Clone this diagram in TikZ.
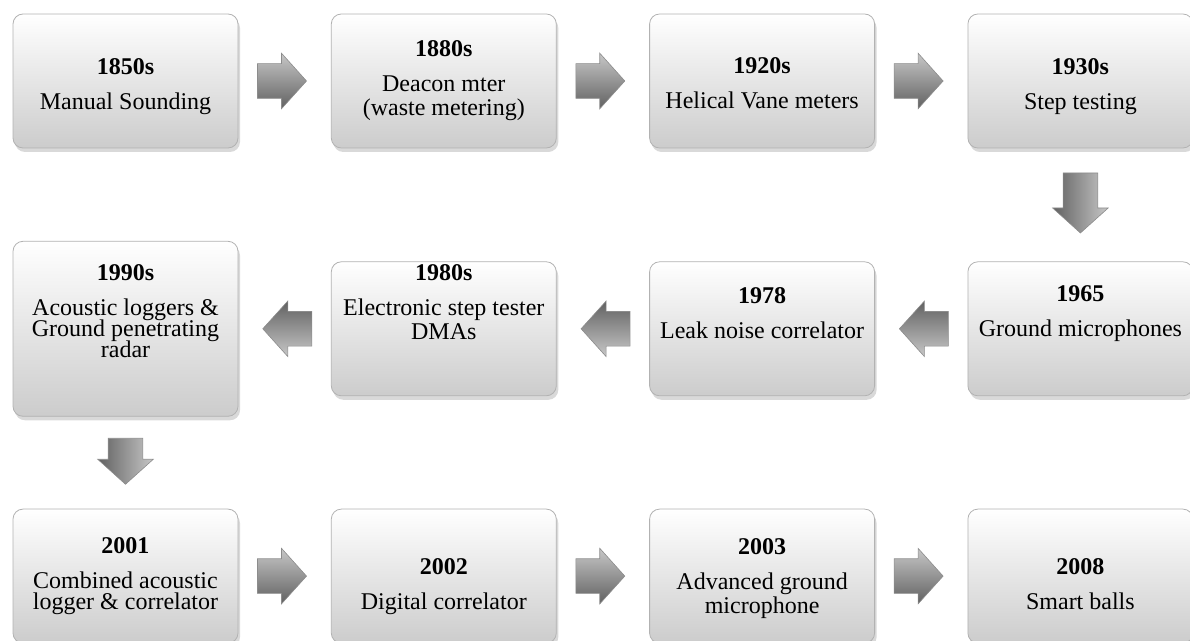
\documentclass[tikz,border=0pt]{standalone}
\usepackage{fontspec}
\setmainfont{Liberation Serif}
\usetikzlibrary{positioning, shapes.arrows, shadows, calc}
\tikzset{
  stage/.style = {align=center, inner sep=0pt, draw=black!30,
    rounded corners=5pt, top color=white, bottom color=black!20,
    minimum width=112.5pt, minimum height=67pt,
    font=\fontsize{12}{12}\selectfont,
    drop shadow={shadow xshift=1pt, shadow yshift=-2pt, opacity=0.3}},
  tall/.style = {minimum height=87.5pt},
  lift/.style = {text depth=#1},
  sink/.style = {text height=#1},
  blk/.style = {single arrow, single arrow head extend=5.25pt,
    single arrow tip angle=96, minimum height=#1, anchor=tip,
    draw=black!45, line width=0.3pt},
  rarr/.style = {blk=24.5pt, inner xsep=0pt, inner ysep=8.5pt,
    top color=black!22, bottom color=black!62},
  larr/.style = {blk=24.5pt, inner xsep=0pt, inner ysep=8.5pt,
    shape border rotate=180, top color=black!62, bottom color=black!22},
  darr/.style = {blk=#1, inner xsep=8.5pt, inner ysep=0pt,
    shape border rotate=270, left color=black!62, right color=black!22}
}
\begin{document}
\begin{tikzpicture}[x=0.5pt, y=-0.5pt]
\useasboundingbox (0,0) rectangle (1190,641);

% first row
\node [stage, sink=30.6pt] (b1850) at (125.5,81) {\textbf{1850s}\\[5.5pt] Manual Sounding};
\node [stage, right=46.25pt of b1850] (b1880)
  {\textbf{1880s}\\[5.5pt] Deacon mter\\ (waste metering)};
\node [stage, sink=27.6pt, right=46.25pt of b1880] (b1920)
  {\textbf{1920s}\\[5.5pt] Helical Vane meters};
\node [stage, sink=30.6pt, right=46.25pt of b1920] (b1930)
  {\textbf{1930s}\\[5.5pt] Step testing};

% second row, right to left
\node [stage, lift=17.5pt, below=56.5pt of b1930] (b1965)
  {\textbf{1965}\\[5.5pt] Ground microphones};
\node [stage, lift=16pt, left=46.25pt of b1965] (b1978)
  {\textbf{1978}\\[5.5pt] Leak noise correlator};
\node [stage, lift=27pt, left=46.25pt of b1978] (b1980)
  {\textbf{1980s}\\[5.5pt] Electronic step tester\\ DMAs};
\node [stage, tall, lift=18pt, left=46.25pt of b1980] (b1990)
  {\textbf{1990s}\\[5.5pt] Acoustic loggers \&\\[-1.5pt] Ground penetrating\\[-1.5pt] radar};

% third row
\node [stage, below=46pt of b1990] (b2001)
  {\textbf{2001}\\[5.5pt] Combined acoustic\\[-1.5pt] logger \& correlator};
\node [stage, sink=35.6pt, right=46.25pt of b2001] (b2002)
  {\textbf{2002}\\[5.5pt] Digital correlator};
\node [stage, sink=40pt, right=46.25pt of b2002] (b2003)
  {\textbf{2003}\\[5.5pt] Advanced ground\\ microphone};
\node [stage, sink=33.6pt, right=46.25pt of b2003] (b2008)
  {\textbf{2008}\\[5.5pt] Smart balls};

% arrows, tip placed just short of the next box
\node [rarr] (a1) at ([xshift=-12pt]b1880.west) {};
\node [rarr] (a2) at ([xshift=-12pt]b1920.west) {};
\node [rarr] (a3) at ([xshift=-12pt]b1930.west) {};
\node [darr=30pt] (a4) at ([yshift=14pt]b1965.north) {};
\node [larr] (a5) at ([xshift=12pt]b1978.east) {};
\node [larr] (a6) at ([xshift=12pt]b1980.east) {};
\node [larr] (a7) at ([xshift=12pt]b1990.east) {};
\node [darr=23pt] (a8) at ([yshift=12pt]b2001.north) {};
\node [rarr] (a9) at ([xshift=-12pt]b2002.west) {};
\node [rarr] (a10) at ([xshift=-12pt]b2003.west) {};
\node [rarr] (a11) at ([xshift=-12pt]b2008.west) {};
\end{tikzpicture}
\end{document}
